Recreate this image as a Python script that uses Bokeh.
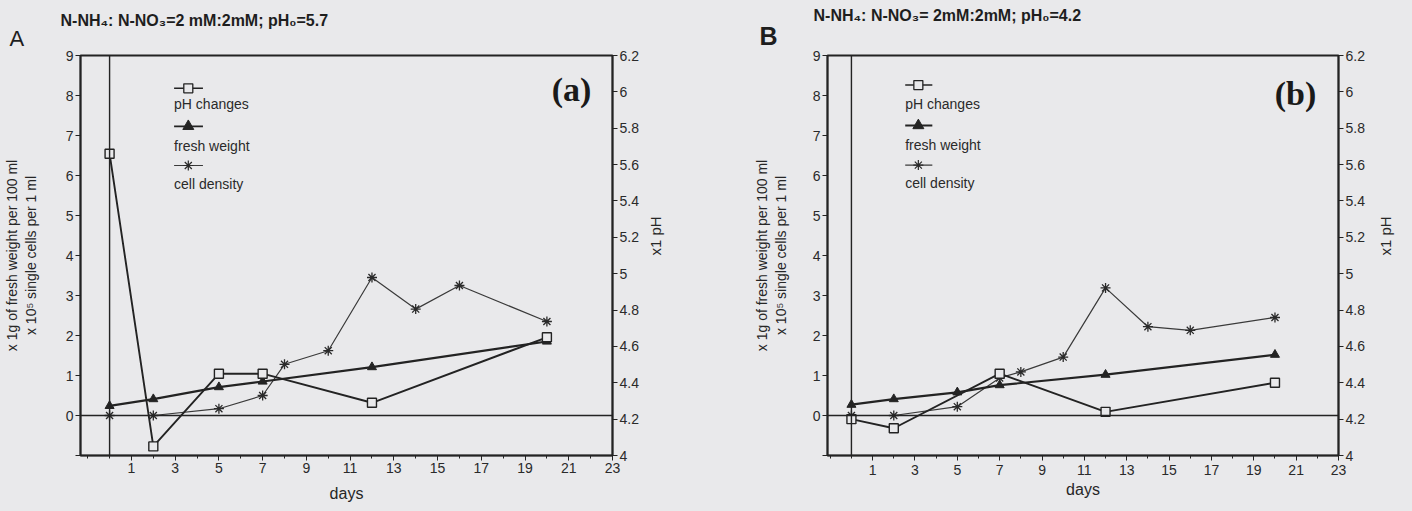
import math
from bokeh.plotting import figure
from bokeh.models import (Range1d, LinearAxis, FixedTicker, CustomJSTickFormatter,
                          Span, Label, Title)
from bokeh.layouts import row
from bokeh.embed import file_html
from bokeh.resources import INLINE

# ---------------- data: panel A (pH0 = 5.7) ----------------
a_ph_days = [0, 2, 5, 7, 12, 20]
a_ph = [5.66, 4.05, 4.45, 4.45, 4.29, 4.65]
a_fw_days = [0, 2, 5, 7, 12, 20]
a_fw = [0.24, 0.41, 0.71, 0.85, 1.21, 1.85]
a_cd_days = [0, 2, 5, 7, 8, 10, 12, 14, 16, 20]
a_cd = [0.0, 0.0, 0.17, 0.50, 1.28, 1.62, 3.45, 2.66, 3.25, 2.35]

# ---------------- data: panel B (pH0 = 4.2) ----------------
b_ph_days = [0, 2, 7, 12, 20]
b_ph = [4.20, 4.15, 4.45, 4.24, 4.40]
b_fw_days = [0, 2, 5, 7, 12, 20]
b_fw = [0.27, 0.41, 0.58, 0.76, 1.02, 1.52]
b_cd_days = [0, 2, 5, 7, 8, 10, 12, 14, 16, 20]
b_cd = [0.0, 0.0, 0.22, 0.94, 1.09, 1.46, 3.19, 2.22, 2.13, 2.45]

# ---------------- texts & ticks ----------------
x_ticks = [1, 3, 5, 7, 9, 11, 13, 15, 17, 19, 21, 23]
x_minor = [-1, 0, 2, 4, 6, 8, 10, 12, 14, 16, 18, 20, 22]
y_left_ticks = [-1, 0, 1, 2, 3, 4, 5, 6, 7, 8, 9]
y_right_ticks = [4.0, 4.2, 4.4, 4.6, 4.8, 5.0, 5.2, 5.4, 5.6, 5.8, 6.0, 6.2]
legend_labels = ["pH changes", "fresh weight", "cell density"]
y_label = "x 1g of fresh weight per 100 ml\nx 10\u2075 single cells per 1 ml"
y2_label = "x1 pH"
x_label = "days"

INK = "#232323"
BG = "#e9e9eb"
SANS = "Liberation Sans"


def make_panel(cfg):
    p = figure(width=cfg["width"], height=511, output_backend="svg",
               toolbar_location=None, x_range=Range1d(cfg["xmin"], 23),
               y_range=Range1d(-1, 9),
               min_border_left=cfg["bl"], min_border_right=cfg["br"],
               min_border_top=cfg["bt"], min_border_bottom=cfg["bb"])
    p.background_fill_color = BG
    p.border_fill_color = BG
    p.outline_line_color = INK
    p.outline_line_width = 2
    p.grid.visible = False
    p.extra_y_ranges = {"ph": Range1d(4.0, 6.2)}
    ax_r = LinearAxis(y_range_name="ph")
    p.add_layout(ax_r, "right")

    for ax in [p.xaxis[0], p.yaxis[0], ax_r]:
        ax.axis_line_color = INK
        ax.axis_line_width = 1.6
        ax.major_tick_line_color = INK
        ax.minor_tick_line_color = INK
        ax.major_tick_in = 0
        ax.major_tick_out = 5
        ax.minor_tick_in = 0
        ax.minor_tick_out = 3
        ax.major_label_text_font = SANS
        ax.major_label_text_font_size = "14px"
        ax.major_label_text_color = "#2a2a2a"
        ax.major_label_standoff = 2
        ax.axis_label_text_font = SANS
        ax.axis_label_text_font_style = "normal"
        ax.axis_label_text_color = "#262626"

    p.xaxis.ticker = FixedTicker(ticks=x_ticks, minor_ticks=x_minor)
    p.xaxis.major_label_standoff = cfg["xt_standoff"]
    p.xaxis.axis_label = x_label
    p.xaxis.axis_label_text_font_size = "16px"
    p.xaxis.axis_label_standoff = cfg["xl_standoff"]

    p.yaxis[0].ticker = FixedTicker(ticks=y_left_ticks, minor_ticks=[])
    p.yaxis[0].formatter = CustomJSTickFormatter(code="return tick < 0 ? '' : String(tick);")
    p.yaxis[0].axis_label = y_label
    p.yaxis[0].axis_label_text_font_size = "14px"
    p.yaxis[0].axis_label_standoff = cfg["yl_standoff"]

    ax_r.ticker = FixedTicker(ticks=y_right_ticks, minor_ticks=[])
    ax_r.formatter = CustomJSTickFormatter(
        code="return tick.toFixed(1).replace(/\\.0$/, '');")
    ax_r.axis_label = y2_label
    ax_r.axis_label_text_font_size = "15px"
    ax_r.axis_label_standoff = cfg["y2_standoff"]
    if "axis_label_orientation" in ax_r.properties():
        ax_r.axis_label_orientation = math.pi / 2

    # reference lines at day 0 and y = 0
    p.add_layout(Span(location=0, dimension="height", line_color=INK, line_width=1.4))
    p.add_layout(Span(location=0, dimension="width", line_color=INK, line_width=1.6))

    # series
    p.line(cfg["cd_days"], cfg["cd"], line_color="#3a3a3a", line_width=1.2)
    p.scatter(cfg["cd_days"], cfg["cd"], marker="asterisk", size=10,
              line_color="#2a2a2a", line_width=1.3)
    p.line(cfg["fw_days"], cfg["fw"], line_color=INK, line_width=2.2)
    p.scatter(cfg["fw_days"], cfg["fw"], marker="triangle", size=9,
              fill_color=INK, line_color=INK)
    p.line(cfg["ph_days"], cfg["ph"], y_range_name="ph", line_color=INK, line_width=1.9)
    p.scatter(cfg["ph_days"], cfg["ph"], y_range_name="ph", marker="square", size=9,
              fill_color=BG, line_color=INK, line_width=1.4)

    # legend (symbol above label)
    lx0, lx1, lxm, ltx = cfg["leg_x"]
    sym_y = cfg["leg_sym_y"]
    txt_y = cfg["leg_txt_y"]
    p.line([lx0, lx1], [sym_y[0]] * 2, line_color=INK, line_width=1.5)
    p.scatter([lxm], [sym_y[0]], marker="square", size=9, fill_color=BG, line_color=INK,
              line_width=1.3)
    p.line([lx0, lx1], [sym_y[1]] * 2, line_color=INK, line_width=1.8)
    p.scatter([lxm], [sym_y[1]], marker="triangle", size=11, fill_color=INK, line_color=INK)
    p.line([lx0, lx1], [sym_y[2]] * 2, line_color="#3a3a3a", line_width=1.1)
    p.scatter([lxm], [sym_y[2]], marker="asterisk", size=10, line_color="#2a2a2a",
              line_width=1.2)
    for lab, ty in zip(legend_labels, txt_y):
        p.add_layout(Label(x=ltx, y=ty, text=lab, text_font=SANS, text_font_size="14px",
                           text_color="#2a2a2a", text_baseline="middle", text_align="left"))

    # panel tag inside the frame
    p.add_layout(Label(x=cfg["tag_pos"][0], y=cfg["tag_pos"][1], x_units="screen",
                       y_units="screen", text=cfg["tag"], text_font="Liberation Serif",
                       text_font_size="34px", text_font_style="bold", text_color="#1a1a1a",
                       text_align="center", text_baseline="middle"))

    # headings: condition text (outer row) and panel letter (inner row)
    p.title.text = cfg["title"]
    p.title.align = "left"
    p.title.offset = cfg["title_offset"]
    p.title.text_font = SANS
    p.title.text_font_size = "16px"
    p.title.text_font_style = "bold"
    p.title.text_color = "#1e1e1e"
    p.title.standoff = cfg["title_standoff"]
    letter = Title(text=cfg["letter"], align="left", offset=cfg["letter_offset"],
                   text_font=SANS, text_font_size=cfg["letter_size"],
                   text_font_style=cfg["letter_style"], text_color="#1e1e1e",
                   standoff=cfg["letter_standoff"], vertical_align="bottom")
    p.add_layout(letter, "above")
    return p


cfg_a = dict(width=748, xmin=-1.33, bl=80, br=136, bt=55, bb=56,
             ph_days=a_ph_days, ph=a_ph, fw_days=a_fw_days, fw=a_fw,
             cd_days=a_cd_days, cd=a_cd,
             leg_x=(2.95, 4.27, 3.6, 2.95),
             leg_sym_y=(8.18, 7.23, 6.25), leg_txt_y=(7.8, 6.75, 5.8),
             letter="A", letter_size="22px", letter_style="normal", letter_offset=-71,
             letter_standoff=10,
             title="N-NH\u2084: N-NO\u2083=2 mM:2mM; pH\u2080=5.7", title_offset=-20,
             title_standoff=-20,
             tag="(a)", tag_pos=(491, 366),
             yl_standoff=24, y2_standoff=14, xt_standoff=2, xl_standoff=9)

cfg_b = dict(width=664, xmin=-1.13, bl=79, br=74, bt=54, bb=56,
             ph_days=b_ph_days, ph=b_ph, fw_days=b_fw_days, fw=b_fw,
             cd_days=b_cd_days, cd=b_cd,
             leg_x=(2.54, 3.82, 3.16, 2.54),
             leg_sym_y=(8.26, 7.25, 6.26), leg_txt_y=(7.8, 6.77, 5.81),
             letter="B", letter_size="25px", letter_style="bold", letter_offset=-68,
             letter_standoff=12,
             title="N-NH\u2084: N-NO\u2083= 2mM:2mM; pH\u2080=4.2", title_offset=-14,
             title_standoff=-20,
             tag="(b)", tag_pos=(468, 362),
             yl_standoff=21, y2_standoff=18, xt_standoff=4, xl_standoff=3)

pa = make_panel(cfg_a)
pb = make_panel(cfg_b)
layout = row(pa, pb)
layout.styles = {"background-color": BG}

html = file_html(layout, INLINE)
html = html.replace("<body>", '<body style="background-color: %s;">' % BG, 1)
open("out.html", "w").write(html)
